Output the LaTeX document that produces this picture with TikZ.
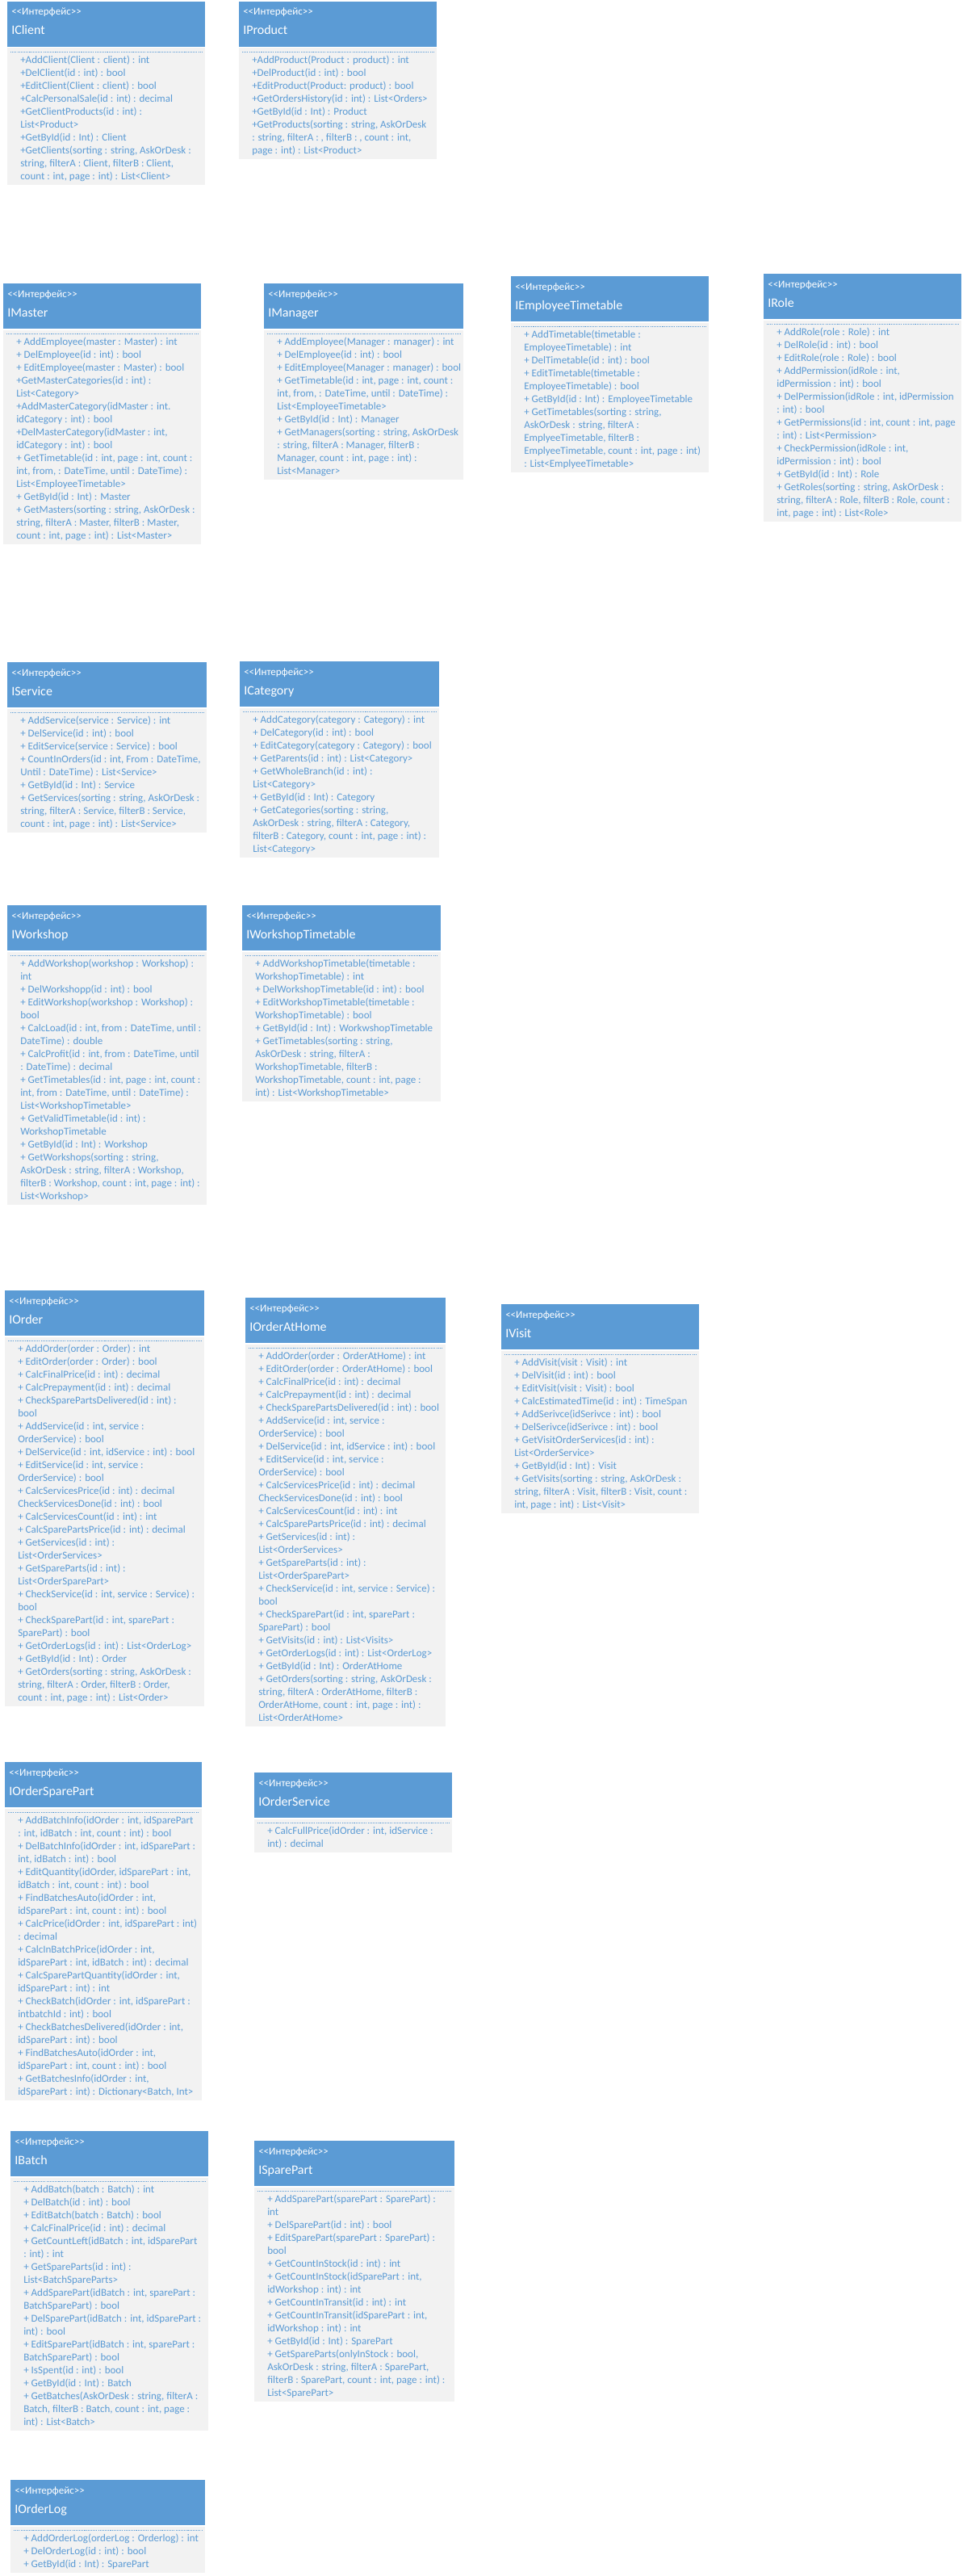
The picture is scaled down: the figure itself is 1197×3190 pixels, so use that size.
\documentclass[tikz,border=0pt]{standalone}
\usepackage{fontspec}
\setmainfont{Carlito}
\definecolor{hdr}{RGB}{91,155,213}
\definecolor{bdy}{RGB}{242,242,242}
\definecolor{txt}{RGB}{91,155,213}
\tikzset{
  headfill/.style={fill=hdr, draw=none},
  bodyfill/.style={fill=bdy, draw=none},
  sepline/.style={draw=hdr, line width=0.5pt, dash pattern=on 0.8pt off 0.8pt},
  stereo/.style={text=white, font=\fontsize{9.75}{11}\selectfont, inner sep=0pt, anchor=base west},
  ttl/.style={text=white, font=\fontsize{12}{14}\selectfont, inner sep=0pt, anchor=base west},
  member/.style={text=txt, font=\fontsize{9.75}{12}\selectfont, inner sep=0pt, align=left, anchor=north west},
}
\newcommand{\stereotxt}{<\kern0pt<Интерфейс>\kern0pt>}
% #1 name, #2 left, #3 top, #4 width, #5 number of lines, #6 title, #7 members
\newcommand{\ifacebox}[7]{%
  \pgfmathsetmacro{\bxr}{#2+#4}%
  \pgfmathsetmacro{\bybot}{#3+72+16*(#5-1)+11}%
  \path[headfill] (#2,#3) rectangle (\bxr,#3+56);
  \path[bodyfill] (#2,#3+57.5) rectangle (\bxr,\bybot);
  \draw[sepline] (#2+4,#3+62) -- (\bxr-4,#3+62);
  \node[stereo] (#1-st) at (#2+5,#3+17) {\stereotxt};
  \node[ttl] (#1-ti) at (#2+5,#3+41) {#6};
  \node[member] (#1-ops) at (#2+16,#3+64.8) {\strut #7};
}
\begin{document}
\begin{tikzpicture}[x=0.75pt,y=-0.75pt]
\useasboundingbox (0,0) rectangle (1197,3190);

\ifacebox{client}{9}{2}{245}{10}{IClient}{%
+AddClient(Client : client) : int\\
+DelClient(id : int) : bool\\
+EditClient(Client : client) : bool\\
+CalcPersonalSale(id : int) : decimal\\
+GetClientProducts(id : int) :\\
List<Product>\\
+GetById(id : Int) : Client\\
+GetClients(sorting : string, AskOrDesk :\\
string, filterA : Client, filterB : Client,\\
count : int, page : int) : List<Client>}

\ifacebox{product}{296}{2}{245}{8}{IProduct}{%
+AddProduct(Product : product) : int\\
+DelProduct(id : int) : bool\\
+EditProduct(Product: product) : bool\\
+GetOrdersHistory(id : int) : List<Orders>\\
+GetById(id : Int) : Product\\
+GetProducts(sorting : string, AskOrDesk\\
: string, filterA : , filterB : , count : int,\\
page : int) : List<Product>}

\ifacebox{master}{4}{351}{245}{16}{IMaster}{%
+ AddEmployee(master : Master) : int\\
+ DelEmployee(id : int) : bool\\
+ EditEmployee(master : Master) : bool\\
+GetMasterCategories(id : int) :\\
List<Category>\\
+AddMasterCategory(idMaster : int.\\
idCategory : int) : bool\\
+DelMasterCategory(idMaster : int,\\
idCategory : int) : bool\\
+ GetTimetable(id : int, page : int, count :\\
int, from, : DateTime, until : DateTime) :\\
List<EmployeeTimetable>\\
+ GetById(id : Int) : Master\\
+ GetMasters(sorting : string, AskOrDesk :\\
string, filterA : Master, filterB : Master,\\
count : int, page : int) : List<Master>}

\ifacebox{manager}{327}{351}{247}{11}{IManager}{%
+ AddEmployee(Manager : manager) : int\\
+ DelEmployee(id : int) : bool\\
+ EditEmployee(Manager : manager) : bool\\
+ GetTimetable(id : int, page : int, count :\\
int, from, : DateTime, until : DateTime) :\\
List<EmployeeTimetable>\\
+ GetById(id : Int) : Manager\\
+ GetManagers(sorting : string, AskOrDesk\\
: string, filterA : Manager, filterB :\\
Manager, count : int, page : int) :\\
List<Manager>}

\ifacebox{emptt}{633}{342}{245}{11}{IEmployeeTimetable}{%
+ AddTimetable(timetable :\\
EmployeeTimetable) : int\\
+ DelTimetable(id : int) : bool\\
+ EditTimetable(timetable :\\
EmployeeTimetable) : bool\\
+ GetById(id : Int) : EmployeeTimetable\\
+ GetTimetables(sorting : string,\\
AskOrDesk : string, filterA :\\
EmplyeeTimetable, filterB :\\
EmplyeeTimetable, count : int, page : int)\\
: List<EmplyeeTimetable>}

\ifacebox{role}{946}{339}{245}{15}{IRole}{%
+ AddRole(role : Role) : int\\
+ DelRole(id : int) : bool\\
+ EditRole(role : Role) : bool\\
+ AddPermission(idRole : int,\\
idPermission : int) : bool\\
+ DelPermission(idRole : int, idPermission\\
: int) : bool\\
+ GetPermissions(id : int, count : int, page\\
: int) : List<Permission>\\
+ CheckPermission(idRole : int,\\
idPermission : int) : bool\\
+ GetById(id : Int) : Role\\
+ GetRoles(sorting : string, AskOrDesk :\\
string, filterA : Role, filterB : Role, count :\\
int, page : int) : List<Role>}

\ifacebox{service}{9}{820}{247}{9}{IService}{%
+ AddService(service : Service) : int\\
+ DelService(id : int) : bool\\
+ EditService(service : Service) : bool\\
+ CountInOrders(id : int, From : DateTime,\\
Until : DateTime) : List<Service>\\
+ GetById(id : Int) : Service\\
+ GetServices(sorting : string, AskOrDesk :\\
string, filterA : Service, filterB : Service,\\
count : int, page : int) : List<Service>}

\ifacebox{category}{297}{819}{247}{11}{ICategory}{%
+ AddCategory(category : Category) : int\\
+ DelCategory(id : int) : bool\\
+ EditCategory(category : Category) : bool\\
+ GetParents(id : int) : List<Category>\\
+ GetWholeBranch(id : int) :\\
List<Category>\\
+ GetById(id : Int) : Category\\
+ GetCategories(sorting : string,\\
AskOrDesk : string, filterA : Category,\\
filterB : Category, count : int, page : int) :\\
List<Category>}

\ifacebox{workshop}{9}{1121}{247}{19}{IWorkshop}{%
+ AddWorkshop(workshop : Workshop) :\\
int\\
+ DelWorkshopp(id : int) : bool\\
+ EditWorkshop(workshop : Workshop) :\\
bool\\
+ CalcLoad(id : int, from : DateTime, until :\\
DateTime) : double\\
+ CalcProfit(id : int, from : DateTime, until\\
: DateTime) : decimal\\
+ GetTimetables(id : int, page : int, count :\\
int, from : DateTime, until : DateTime) :\\
List<WorkshopTimetable>\\
+ GetValidTimetable(id : int) :\\
WorkshopTimetable\\
+ GetById(id : Int) : Workshop\\
+ GetWorkshops(sorting : string,\\
AskOrDesk : string, filterA : Workshop,\\
filterB : Workshop, count : int, page : int) :\\
List<Workshop>}

\ifacebox{wstt}{300}{1121}{246}{11}{IWorkshopTimetable}{%
+ AddWorkshopTimetable(timetable :\\
WorkshopTimetable) : int\\
+ DelWorkshopTimetable(id : int) : bool\\
+ EditWorkshopTimetable(timetable :\\
WorkshopTimetable) : bool\\
+ GetById(id : Int) : WorkwshopTimetable\\
+ GetTimetables(sorting : string,\\
AskOrDesk : string, filterA :\\
WorkshopTimetable, filterB :\\
WorkshopTimetable, count : int, page :\\
int) : List<WorkshopTimetable>}

\ifacebox{order}{6}{1598}{247}{28}{IOrder}{%
+ AddOrder(order : Order) : int\\
+ EditOrder(order : Order) : bool\\
+ CalcFinalPrice(id : int) : decimal\\
+ CalcPrepayment(id : int) : decimal\\
+ CheckSparePartsDelivered(id : int) :\\
bool\\
+ AddService(id : int, service :\\
OrderService) : bool\\
+ DelService(id : int, idService : int) : bool\\
+ EditService(id : int, service :\\
OrderService) : bool\\
+ CalcServicesPrice(id : int) : decimal\\
CheckServicesDone(id : int) : bool\\
+ CalcServicesCount(id : int) : int\\
+ CalcSparePartsPrice(id : int) : decimal\\
+ GetServices(id : int) :\\
List<OrderServices>\\
+ GetSpareParts(id : int) :\\
List<OrderSparePart>\\
+ CheckService(id : int, service : Service) :\\
bool\\
+ CheckSparePart(id : int, sparePart :\\
SparePart) : bool\\
+ GetOrderLogs(id : int) : List<OrderLog>\\
+ GetById(id : Int) : Order\\
+ GetOrders(sorting : string, AskOrDesk :\\
string, filterA : Order, filterB : Order,\\
count : int, page : int) : List<Order>}

\ifacebox{orderhome}{304}{1607}{248}{29}{IOrderAtHome}{%
+ AddOrder(order : OrderAtHome) : int\\
+ EditOrder(order : OrderAtHome) : bool\\
+ CalcFinalPrice(id : int) : decimal\\
+ CalcPrepayment(id : int) : decimal\\
+ CheckSparePartsDelivered(id : int) : bool\\
+ AddService(id : int, service :\\
OrderService) : bool\\
+ DelService(id : int, idService : int) : bool\\
+ EditService(id : int, service :\\
OrderService) : bool\\
+ CalcServicesPrice(id : int) : decimal\\
CheckServicesDone(id : int) : bool\\
+ CalcServicesCount(id : int) : int\\
+ CalcSparePartsPrice(id : int) : decimal\\
+ GetServices(id : int) :\\
List<OrderServices>\\
+ GetSpareParts(id : int) :\\
List<OrderSparePart>\\
+ CheckService(id : int, service : Service) :\\
bool\\
+ CheckSparePart(id : int, sparePart :\\
SparePart) : bool\\
+ GetVisits(id : int) : List<Visits>\\
+ GetOrderLogs(id : int) : List<OrderLog>\\
+ GetById(id : Int) : OrderAtHome\\
+ GetOrders(sorting : string, AskOrDesk :\\
string, filterA : OrderAtHome, filterB :\\
OrderAtHome, count : int, page : int) :\\
List<OrderAtHome>}

\ifacebox{visit}{621}{1615}{245}{12}{IVisit}{%
+ AddVisit(visit : Visit) : int\\
+ DelVisit(id : int) : bool\\
+ EditVisit(visit : Visit) : bool\\
+ CalcEstimatedTime(id : int) : TimeSpan\\
+ AddSerivce(idSerivce : int) : bool\\
+ DelSerivce(idSerivce : int) : bool\\
+ GetVisitOrderServices(id : int) :\\
List<OrderService>\\
+ GetById(id : Int) : Visit\\
+ GetVisits(sorting : string, AskOrDesk :\\
string, filterA : Visit, filterB : Visit, count :\\
int, page : int) : List<Visit>}

\ifacebox{osp}{6}{2182}{244}{22}{IOrderSparePart}{%
+ AddBatchInfo(idOrder : int, idSparePart\\
: int, idBatch : int, count : int) : bool\\
+ DelBatchInfo(idOrder : int, idSparePart :\\
int, idBatch : int) : bool\\
+ EditQuantity(idOrder, idSparePart : int,\\
idBatch : int, count : int) : bool\\
+ FindBatchesAuto(idOrder : int,\\
idSparePart : int, count : int) : bool\\
+ CalcPrice(idOrder : int, idSparePart : int)\\
: decimal\\
+ CalcInBatchPrice(idOrder : int,\\
idSparePart : int, idBatch : int) : decimal\\
+ CalcSparePartQuantity(idOrder : int,\\
idSparePart : int) : int\\
+ CheckBatch(idOrder : int, idSparePart :\\
intbatchId : int) : bool\\
+ CheckBatchesDelivered(idOrder : int,\\
idSparePart : int) : bool\\
+ FindBatchesAuto(idOrder : int,\\
idSparePart : int, count : int) : bool\\
+ GetBatchesInfo(idOrder : int,\\
idSparePart : int) : Dictionary<Batch, Int>}

\ifacebox{osvc}{315}{2195}{245}{2}{IOrderService}{%
+ CalcFullPrice(idOrder : int, idService :\\
int) : decimal}

\ifacebox{batch}{13}{2639}{245}{19}{IBatch}{%
+ AddBatch(batch : Batch) : int\\
+ DelBatch(id : int) : bool\\
+ EditBatch(batch : Batch) : bool\\
+ CalcFinalPrice(id : int) : decimal\\
+ GetCountLeft(idBatch : int, idSparePart\\
: int) : int\\
+ GetSpareParts(id : int) :\\
List<BatchSpareParts>\\
+ AddSparePart(idBatch : int, sparePart :\\
BatchSparePart) : bool\\
+ DelSparePart(idBatch : int, idSparePart :\\
int) : bool\\
+ EditSparePart(idBatch : int, sparePart :\\
BatchSparePart) : bool\\
+ IsSpent(id : int) : bool\\
+ GetById(id : Int) : Batch\\
+ GetBatches(AskOrDesk : string, filterA :\\
Batch, filterB : Batch, count : int, page :\\
int) : List<Batch>}

\ifacebox{sparepart}{315}{2651}{248}{16}{ISparePart}{%
+ AddSparePart(sparePart : SparePart) :\\
int\\
+ DelSparePart(id : int) : bool\\
+ EditSparePart(sparePart : SparePart) :\\
bool\\
+ GetCountInStock(id : int) : int\\
+ GetCountInStock(idSparePart : int,\\
idWorkshop : int) : int\\
+ GetCountInTransit(id : int) : int\\
+ GetCountInTransit(idSparePart : int,\\
idWorkshop : int) : int\\
+ GetById(id : Int) : SparePart\\
+ GetSpareParts(onlyInStock : bool,\\
AskOrDesk : string, filterA : SparePart,\\
filterB : SparePart, count : int, page : int) :\\
List<SparePart>}

\ifacebox{orderlog}{13}{3071}{241}{3}{IOrderLog}{%
+ AddOrderLog(orderLog : Orderlog) : int\\
+ DelOrderLog(id : int) : bool\\
+ GetById(id : Int) : SparePart}

\end{tikzpicture}
\end{document}
